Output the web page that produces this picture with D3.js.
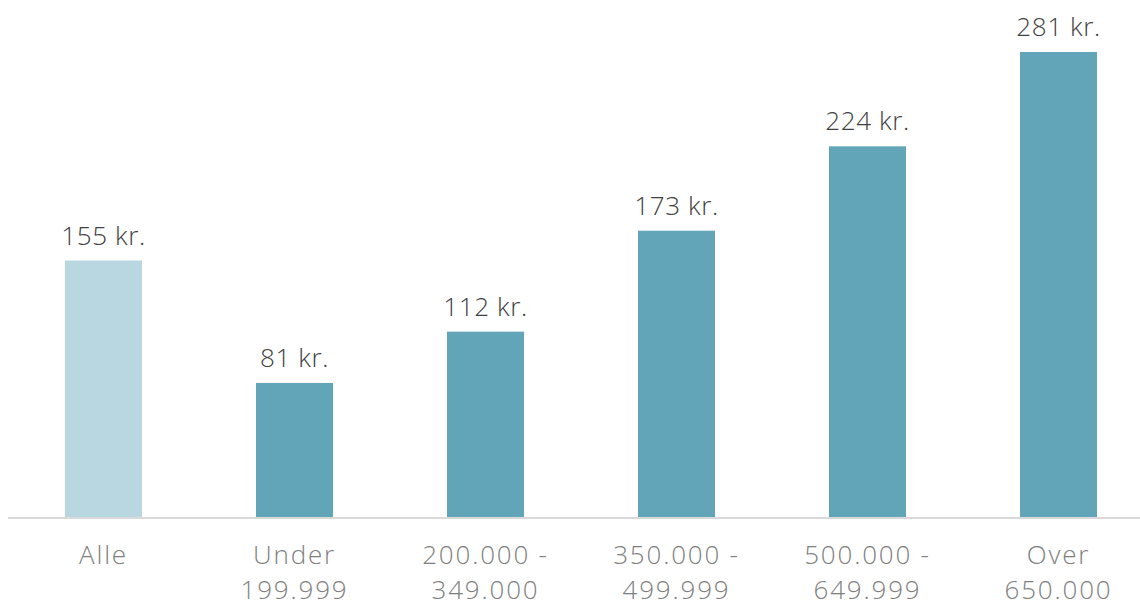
<!DOCTYPE html>
<html><head><meta charset="utf-8">
<script src="https://cdn.jsdelivr.net/npm/d3@7"></script>
<style>body{margin:0;background:#fff;}svg{display:block;font-family:"Open Sans",sans-serif;}</style>
</head><body>
<svg id="c" width="1140" height="604"></svg>
<script>
const categories = ["Alle", "Under\n199.999", "200.000 -\n349.000", "350.000 -\n499.999", "500.000 -\n649.999", "Over\n650.000"];
const values = [155, 81, 112, 173, 224, 281];
const valueLabels = ["155 kr.", "81 kr.", "112 kr.", "173 kr.", "224 kr.", "281 kr."];
const colors = ["#b8d7e0", "#62a5b8", "#62a5b8", "#62a5b8", "#62a5b8", "#62a5b8"];

const svg = d3.select("#c");
const x = d3.scaleBand().domain(categories).range([8, 1154]).paddingInner(0.597).paddingOuter(0.2985);
const y = d3.scaleLinear().domain([0, 281]).range([517, 52]);

svg.selectAll("rect.bar").data(categories).join("rect").attr("class","bar")
  .attr("x", d => x(d)).attr("width", x.bandwidth())
  .attr("y", (d,i) => y(values[i])).attr("height", (d,i) => y(0) - y(values[i]))
  .attr("fill", (d,i) => colors[i]);

svg.append("line").attr("x1", 8).attr("x2", 1140).attr("y1", y(0)+1).attr("y2", y(0)+1)
  .attr("stroke", "#d9d9d9").attr("stroke-width", 2);

svg.selectAll("text.val").data(categories).join("text").attr("class","val")
  .attr("x", d => x(d) + x.bandwidth()/2).attr("y", (d,i) => y(values[i]) - 16)
  .attr("text-anchor", "middle").attr("font-size", 26).attr("font-weight", 300)
  .attr("letter-spacing", 0.6).attr("fill", "#404040")
  .text((d,i) => valueLabels[i]);

const cat = svg.selectAll("text.cat").data(categories).join("text").attr("class","cat")
  .attr("text-anchor", "middle").attr("font-size", 26).attr("font-weight", 300)
  .attr("letter-spacing", 1.8).attr("fill", "#7f7f7f")
  .attr("transform", d => `translate(${x(d) + x.bandwidth()/2},564)`);
cat.selectAll("tspan").data(d => d.split("\n")).join("tspan")
  .attr("x", 0).attr("dy", (d,i) => i === 0 ? 0 : 35).text(d => d);
</script>
</body></html>
